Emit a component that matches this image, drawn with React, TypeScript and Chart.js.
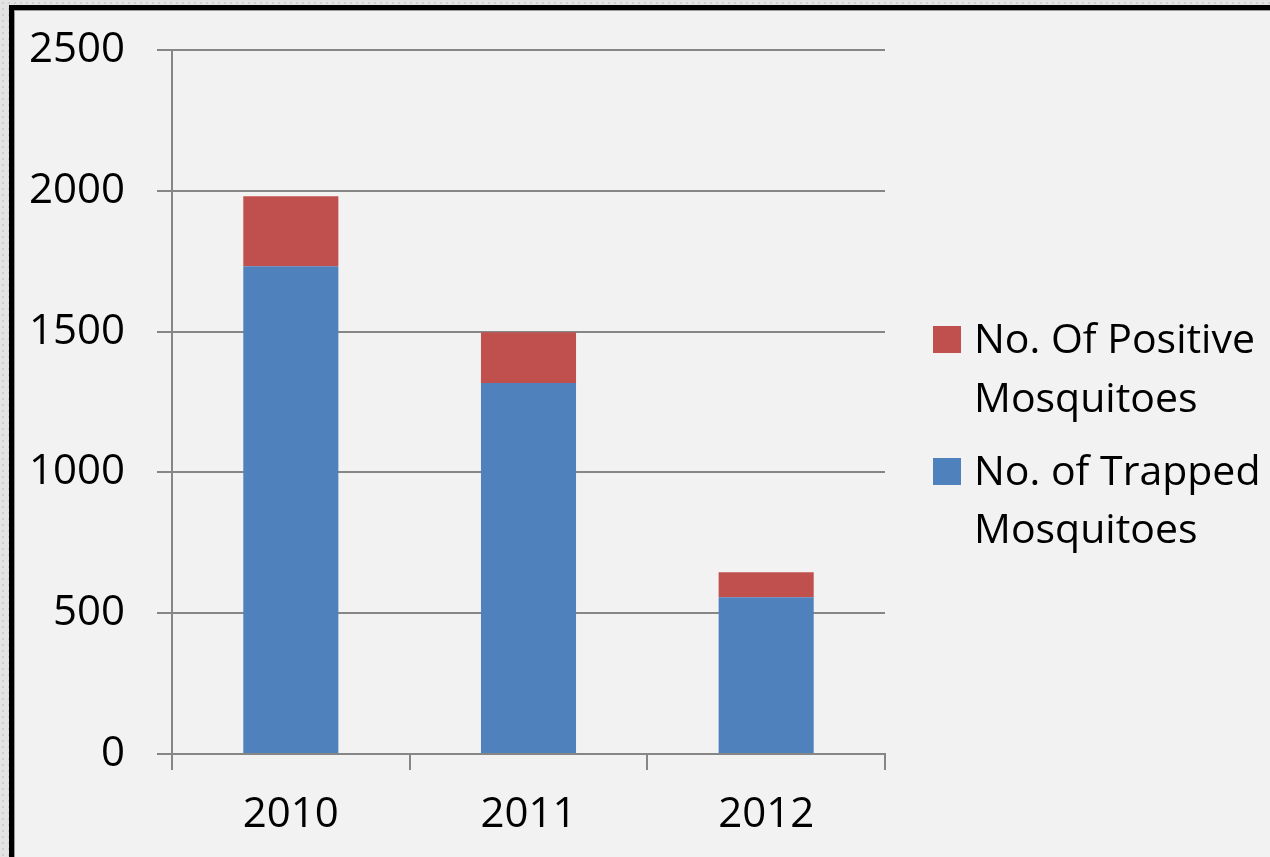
import React, { useEffect, useRef } from "react";
import { Chart, registerables } from "chart.js";

Chart.register(...registerables);

const categories = ["2010", "2011", "2012"];
const trapped = [1733, 1318, 557];
const positive = [248, 180, 89];
const yTicks = [0, 500, 1000, 1500, 2000, 2500];
const legendLabels = [
  ["No. Of Positive", "Mosquitoes"],
  ["No. of Trapped", "Mosquitoes"],
];
const legendColors = ["#c0504d", "#4f81bd"];

const FONT = '"Open Sans", "Noto Sans", sans-serif';
const GRID = "#868686";
const SHIFT = 17;

const legendPlugin = {
  id: "customLegend",
  afterDraw(chart: any) {
    const ctx = chart.ctx as CanvasRenderingContext2D;
    ctx.save();
    ctx.font = `41px ${FONT}`;
    ctx.textBaseline = "alphabetic";
    ctx.textAlign = "left";
    const items = [
      { box: 316, base: [343, 402] },
      { box: 448, base: [475, 533] },
    ];
    items.forEach((it, i) => {
      ctx.fillStyle = legendColors[i];
      ctx.fillRect(919, it.box + SHIFT, 28, 27);
      ctx.fillStyle = "#000";
      legendLabels[i].forEach((line, j) => {
        ctx.fillText(line, 960, it.base[j] + SHIFT);
      });
    });
    ctx.restore();
  },
};

export default function App() {
  const ref = useRef<HTMLCanvasElement>(null);
  useEffect(() => {
    if (!ref.current) return;
    const chart = new Chart(ref.current, {
      type: "bar",
      data: {
        labels: categories,
        datasets: [
          {
            label: legendLabels[1].join(" "),
            data: trapped,
            backgroundColor: legendColors[1],
            borderWidth: 0,
          },
          {
            label: legendLabels[0].join(" "),
            data: positive,
            backgroundColor: legendColors[0],
            borderWidth: 0,
          },
        ],
      },
      options: {
        animation: false,
        responsive: false,
        maintainAspectRatio: false,
        datasets: { bar: { categoryPercentage: 0.8, barPercentage: 0.5 } },
        layout: { padding: { top: 0, right: 385, left: 0, bottom: 0 } },
        plugins: { legend: { display: false }, tooltip: { enabled: false } },
        scales: {
          x: {
            stacked: true,
            afterFit: (s: any) => {
              s.height = 103;
            },
            grid: {
              display: true,
              drawOnChartArea: false,
              drawTicks: true,
              tickLength: 16,
              color: GRID,
              lineWidth: 2,
              offset: true,
            },
            border: { display: true, color: GRID, width: 2 },
            ticks: {
              color: "#000",
              font: { family: FONT, size: 42 },
              padding: 20,
            },
          },
          y: {
            stacked: true,
            min: yTicks[0],
            max: yTicks[yTicks.length - 1],
            afterFit: (s: any) => {
              s.width = 158;
            },
            grid: {
              color: GRID,
              lineWidth: 2,
              tickLength: 15,
              drawTicks: true,
            },
            border: { display: true, color: GRID, width: 2 },
            ticks: {
              stepSize: 500,
              color: "#000",
              font: { family: FONT, size: 42 },
              padding: 32,
              callback: (v: any) => String(v),
            },
          },
        },
      },
      plugins: [legendPlugin],
    });
    return () => chart.destroy();
  }, []);

  return (
    <div
      style={{
        position: "fixed",
        left: 0,
        top: 0,
        width: 1270,
        height: 857,
        overflow: "hidden",
        background:
          "radial-gradient(circle, #cfcfcf 1px, transparent 1.2px) 0 0 / 6px 6px, #e3e3e3",
      }}
    >
      <div
        style={{
          position: "absolute",
          left: 9,
          top: 5,
          width: 1300,
          height: 900,
          borderLeft: "5px solid #000",
          borderTop: "5px solid #000",
          background: "#f2f2f2",
          boxShadow: "inset 1px 1px 0 #9a9a9a",
        }}
      >
        <canvas
          ref={ref}
          width={1256}
          height={847 + SHIFT}
          style={{
            display: "block",
            position: "relative",
            top: -SHIFT,
            width: 1256,
            height: 847 + SHIFT,
          }}
        />
      </div>
    </div>
  );
}
